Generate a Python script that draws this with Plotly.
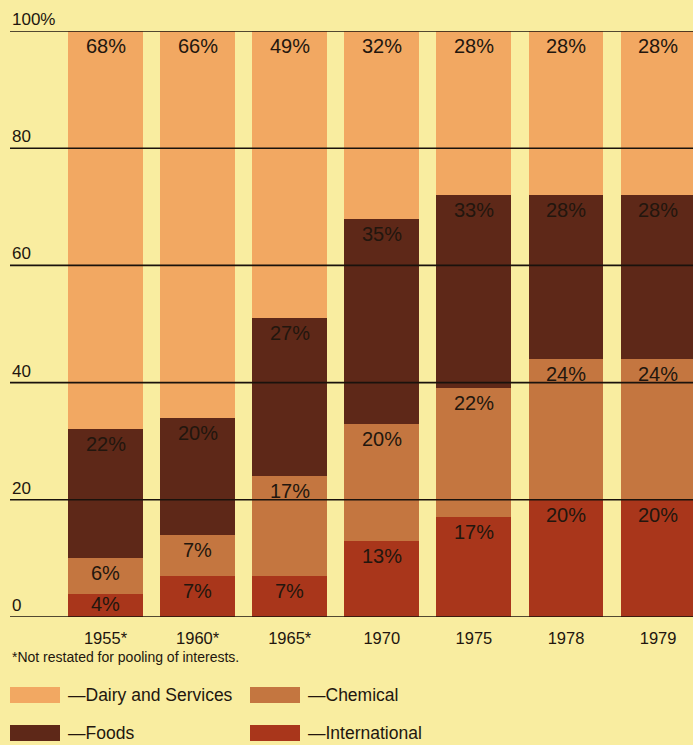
import plotly.graph_objects as go

# Share of sales by business line, in percent
years = ["1955*", "1960*", "1965*", "1970", "1975", "1978", "1979"]
international = [4, 7, 7, 13, 17, 20, 20]
chemical = [6, 7, 17, 20, 22, 24, 24]
foods = [22, 20, 27, 35, 33, 28, 28]
dairy = [68, 66, 49, 32, 28, 28, 28]

y_ticks = [0, 20, 40, 60, 80, 100]
footnote = "*Not restated for pooling of interests."

series = [
    ("International", international, "#A9361B"),
    ("Chemical", chemical, "#C47640"),
    ("Foods", foods, "#5E2818"),
    ("Dairy and Services", dairy, "#F2A862"),
]

W, H = 693, 745
PLOT_TOP, PLOT_BOTTOM = 31, 617
PX_PER_UNIT = (PLOT_BOTTOM - PLOT_TOP) / 100
BG = "#F9EDA0"
INK = "#22160E"
FONT = "Liberation Sans, Arial, sans-serif"


def py(pixel_y):
    """Convert a pixel row to paper coordinates."""
    return (PLOT_BOTTOM - pixel_y) / (PLOT_BOTTOM - PLOT_TOP)


def px(pixel_x):
    return (pixel_x - 10) / (W - 10)


fig = go.Figure()
for name, vals, color in series:
    fig.add_trace(go.Bar(
        x=list(range(len(years))), y=vals, name=name,
        marker=dict(color=color, line=dict(width=0)),
        showlegend=False, hoverinfo="y+name",
    ))

annotations = []
shapes = []

# value labels near the top of every segment (centred in very short ones)
bottoms = [0] * len(years)
for name, vals, color in series:
    for i, v in enumerate(vals):
        top = bottoms[i] + v
        if v * PX_PER_UNIT < 30:
            y, shift = bottoms[i] + v / 2, 1
        else:
            y, shift = top, -15
        annotations.append(dict(
            x=i, y=y, xref="x", yref="y", text=f"{v}%",
            showarrow=False, yanchor="middle", yshift=shift,
            font=dict(size=20, color=INK, family=FONT),
        ))
        bottoms[i] = top

# horizontal rules drawn over the bars, with labels above them
for t in y_ticks:
    shapes.append(dict(
        type="line", xref="paper", yref="y", x0=0, x1=1, y0=t, y1=t,
        line=dict(color="#1A120C", width=1.6), layer="above",
    ))
    annotations.append(dict(
        x=0, y=t, xref="paper", yref="y", text=f"{t}%" if t == 100 else str(t),
        showarrow=False, xanchor="left", yanchor="bottom", yshift=0,
        font=dict(size=17, color=INK, family=FONT),
    ))

# footnote
annotations.append(dict(
    x=0, y=py(657), xref="paper", yref="paper", text=footnote,
    showarrow=False, xanchor="left", yanchor="middle",
    font=dict(size=14, color=INK, family=FONT),
))

# legend: swatch plus dash-prefixed label
legend_items = [
    ("Dairy and Services", series[3][2], 10, 695),
    ("Chemical", series[1][2], 250, 695),
    ("Foods", series[2][2], 10, 733),
    ("International", series[0][2], 250, 733),
]
for name, color, lx, ly in legend_items:
    shapes.append(dict(
        type="rect", xref="paper", yref="paper",
        x0=px(lx), x1=px(lx + 50), y0=py(ly - 8), y1=py(ly + 8),
        fillcolor=color, line=dict(width=0),
    ))
    annotations.append(dict(
        x=px(lx + 56), y=py(ly), xref="paper", yref="paper",
        text="\u2014" + name, showarrow=False, xanchor="left", yanchor="middle",
        font=dict(size=17.5, color=INK, family=FONT),
    ))

fig.update_layout(
    width=W, height=H,
    margin=dict(l=10, r=0, t=PLOT_TOP, b=H - PLOT_BOTTOM),
    barmode="stack", bargap=0.186,
    paper_bgcolor=BG, plot_bgcolor=BG,
    shapes=shapes, annotations=annotations,
    xaxis=dict(
        range=[-1.037, 6.379], tickmode="array",
        tickvals=list(range(len(years))), ticktext=years,
        showgrid=False, zeroline=False, showline=False, ticks="",
        ticklabelstandoff=9,
        tickfont=dict(size=16.5, color=INK, family=FONT),
    ),
    yaxis=dict(
        range=[0, 100], showgrid=False, zeroline=False,
        showticklabels=False, showline=False, ticks="",
    ),
    font=dict(family=FONT),
)

fig.write_html("out.html")
